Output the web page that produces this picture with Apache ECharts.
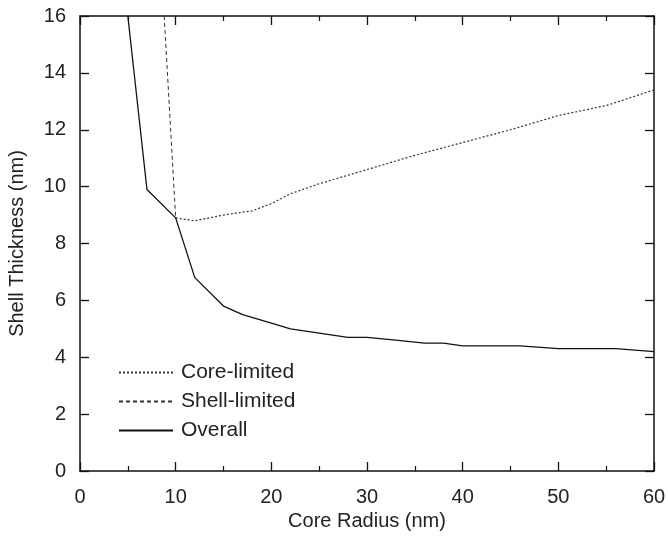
<!DOCTYPE html>
<html>
<head>
<meta charset="utf-8">
<script src="https://cdn.jsdelivr.net/npm/echarts@6/dist/echarts.min.js"></script>
<style>
  html, body { margin: 0; padding: 0; background: #fff; }
  #chart { width: 668px; height: 542px; }
</style>
</head>
<body>
<div id="chart"></div>
<script>
// data
const coreLimited = [[10, 8.9], [12, 8.8], [15, 9.0], [18, 9.15], [20, 9.4], [22, 9.75], [25, 10.1],
  [30, 10.6], [35, 11.1], [40, 11.55], [45, 12.0], [50, 12.5], [55, 12.85], [60, 13.4]];
const shellLimited = [[8.8, 16], [10, 8.9]];
const overall = [[5, 16], [7, 9.9], [10, 8.9], [12, 6.8], [15, 5.8], [17, 5.5], [20, 5.2], [22, 5.0],
  [25, 4.85], [28, 4.7], [30, 4.7], [33, 4.6], [36, 4.5], [38, 4.5], [40, 4.4], [46, 4.4],
  [50, 4.3], [56, 4.3], [60, 4.2]];
const seriesNames = ['Core-limited', 'Shell-limited', 'Overall'];

document.addEventListener('DOMContentLoaded', function() {
  const chart = echarts.init(document.getElementById('chart'));
  const font = 'Liberation Sans, Arial, sans-serif';
  const txt = '#222';
  const axisLine = { show: true, onZero: false, lineStyle: { color: '#111', width: 1.5 } };
  const tick = { inside: true, length: 9, lineStyle: { color: '#111', width: 1.3 } };
  const minor = { show: true, splitNumber: 2, length: 5, lineStyle: { color: '#111', width: 1.2 } };

  const option = {
    animation: false,
    backgroundColor: '#fff',
    grid: { left: 80, right: 14, top: 16, bottom: 71, containLabel: false, outerBoundsMode: 'none' },
    legend: {
      orient: 'vertical',
      left: 113,
      top: 357,
      itemWidth: 54,
      itemHeight: 14,
      itemGap: 8,
      data: seriesNames,
      itemStyle: { opacity: 0 },
      textStyle: { fontFamily: font, fontSize: 21, lineHeight: 21, color: txt, padding: [0, 0, 0, 3] }
    },
    xAxis: [{
      type: 'value', min: 0, max: 60, interval: 10,
      name: 'Core Radius (nm)', nameLocation: 'middle', nameGap: 39,
      nameTextStyle: { fontFamily: font, fontSize: 20, color: txt },
      axisLine: axisLine,
      axisTick: tick,
      minorTick: minor,
      axisLabel: { fontFamily: font, fontSize: 20, color: txt, margin: 16 },
      splitLine: { show: false }
    }, {
      type: 'value', min: 0, max: 60, interval: 10, position: 'top',
      axisLine: axisLine,
      axisTick: tick,
      minorTick: minor,
      axisLabel: { show: false },
      splitLine: { show: false }
    }],
    yAxis: [{
      type: 'value', min: 0, max: 16, interval: 2,
      name: 'Shell Thickness (nm)', nameLocation: 'middle', nameGap: 53,
      nameTextStyle: { fontFamily: font, fontSize: 20, color: txt },
      axisLine: axisLine,
      axisTick: tick,
      axisLabel: { fontFamily: font, fontSize: 20, color: txt, margin: 14 },
      splitLine: { show: false }
    }, {
      type: 'value', min: 0, max: 16, interval: 2, position: 'right',
      axisLine: axisLine,
      axisTick: tick,
      axisLabel: { show: false },
      splitLine: { show: false }
    }],
    series: [{
      name: 'Core-limited', type: 'line', symbol: 'none', clip: true,
      data: coreLimited,
      lineStyle: { color: '#333', width: 1.2, type: [2, 2] },
      itemStyle: { color: '#333' }
    }, {
      name: 'Shell-limited', type: 'line', symbol: 'none', clip: true,
      data: shellLimited,
      lineStyle: { color: '#333', width: 1, type: [4, 3] },
      itemStyle: { color: '#333' }
    }, {
      name: 'Overall', type: 'line', symbol: 'none', clip: true,
      data: overall,
      lineStyle: { color: '#111', width: 1.3, type: 'solid' },
      itemStyle: { color: '#111' }
    }]
  };
  chart.setOption(option);
  window.addEventListener('resize', function() { chart.resize(); });
});
</script>
</body>
</html>
